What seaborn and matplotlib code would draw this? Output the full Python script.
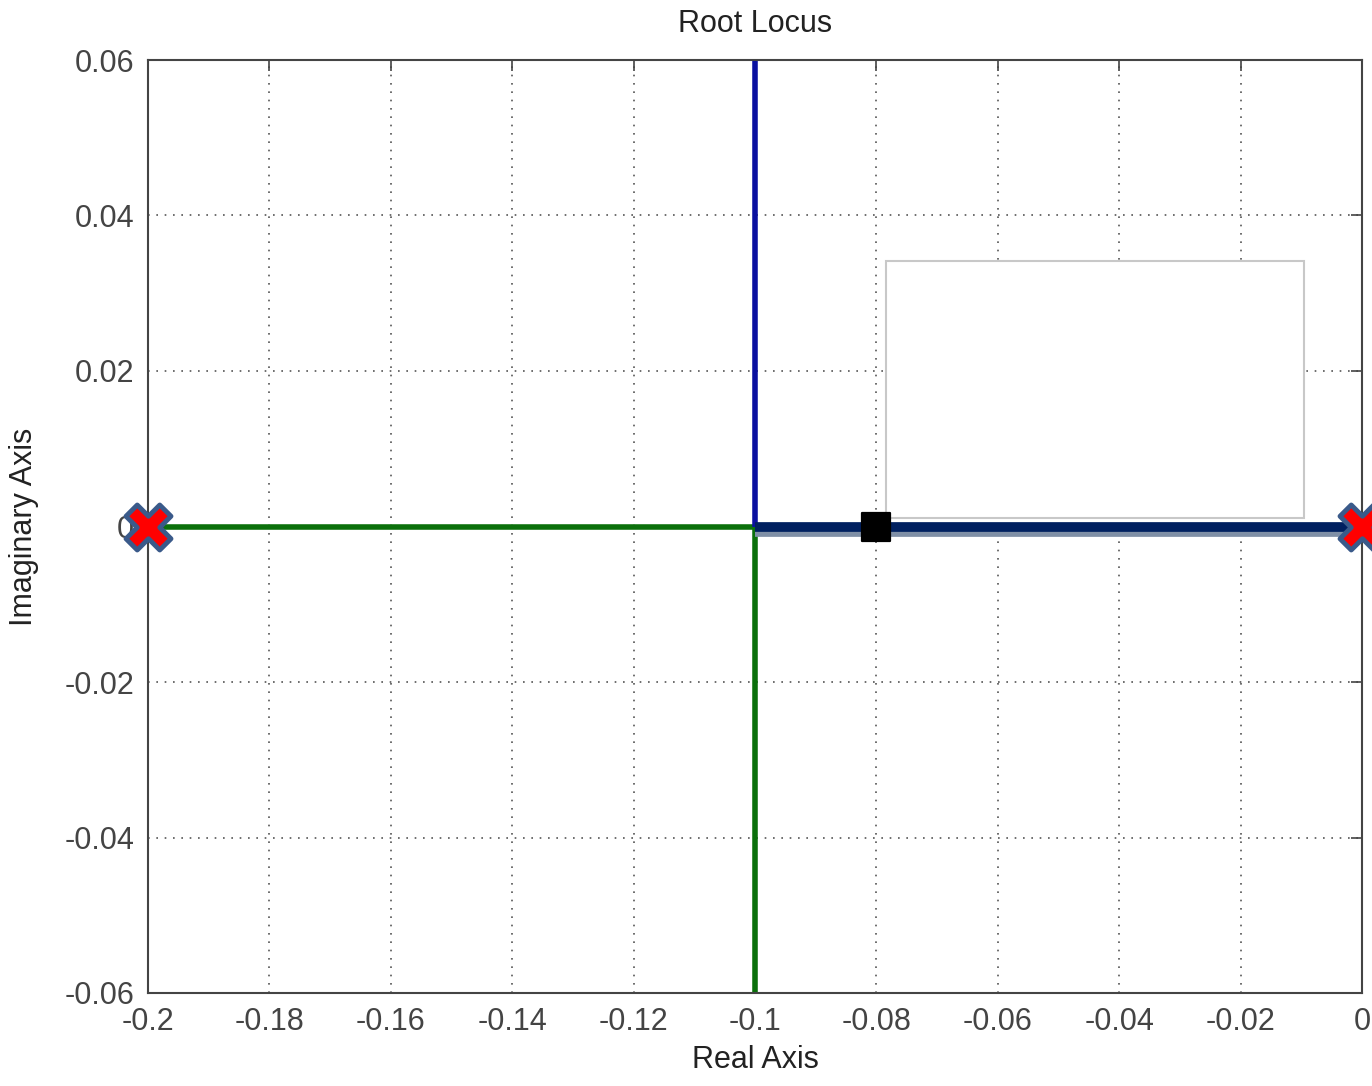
import matplotlib
matplotlib.use("Agg")
import matplotlib.pyplot as plt
import matplotlib.patheffects as pe
from matplotlib.patches import Rectangle
import seaborn as sns
import pandas as pd

# Data
upper_branch_x = [-0.1, -0.1]
upper_branch_y = [0.06, 0.0]
right_branch_x = [-0.1, 0.0]
right_branch_y = [0.0, 0.0]
left_branch_x = [-0.2, -0.1]
left_branch_y = [0.0, 0.0]
lower_branch_x = [-0.1, -0.1]
lower_branch_y = [0.0, -0.06]
poles_x = [-0.2, 0.0]
poles_y = [0.0, 0.0]
marker_x = [-0.08]
marker_y = [0.0]
xticks = [-0.2, -0.18, -0.16, -0.14, -0.12, -0.1, -0.08, -0.06, -0.04, -0.02, 0.0]
xtick_labels = ["-0.2", "-0.18", "-0.16", "-0.14", "-0.12", "-0.1", "-0.08", "-0.06", "-0.04", "-0.02", "0"]
yticks = [-0.06, -0.04, -0.02, 0.0, 0.02, 0.04, 0.06]
ytick_labels = ["-0.06", "-0.04", "-0.02", "0", "0.02", "0.04", "0.06"]
box_x = [-0.0784, -0.0096]
box_y = [0.0011, 0.0342]

sns.set_style("white")
plt.rcParams['font.family'] = ['Liberation Sans', 'DejaVu Sans']

fig = plt.figure(figsize=(13.72, 10.86), dpi=100)
ax = fig.add_axes([148/1372, 1 - 993/1086, (1362-148)/1372, (993-60)/1086])

ax.set_xlim(-0.2, 0.0)
ax.set_ylim(-0.06, 0.06)

ax.grid(True, linestyle=(0, (1, 4)), color="#555555", linewidth=1.2)
ax.set_axisbelow(True)

def line(xs, ys, **kw):
    df = pd.DataFrame({"x": xs, "y": ys})
    return sns.lineplot(data=df, x="x", y="y", sort=False, estimator=None, ax=ax, **kw)

line(left_branch_x, left_branch_y, color="#0b700b", linewidth=4, solid_capstyle="butt")
line(lower_branch_x, lower_branch_y, color="#0b700b", linewidth=4, solid_capstyle="butt")
line(upper_branch_x, upper_branch_y, color="#0a10a0", linewidth=4, solid_capstyle="butt")
line(right_branch_x, right_branch_y, color="#002060", linewidth=7, solid_capstyle="butt")
ax.lines[-1].set_path_effects([pe.SimpleLineShadow(offset=(0, -4), shadow_color="#7f8fa6", alpha=1.0),
                               pe.Normal()])

# blanked datatip box
ax.add_patch(Rectangle((box_x[0], box_y[0]), box_x[1] - box_x[0], box_y[1] - box_y[0],
                       facecolor="white", edgecolor="#c8c8c8", linewidth=1.5, zorder=5))

sns.scatterplot(x=marker_x, y=marker_y, marker="s", s=400, color="black", edgecolor="black",
                ax=ax, zorder=6, clip_on=False)
sns.scatterplot(x=poles_x, y=poles_y, marker="X", s=1050, color="#ff0000", edgecolor="#3a5a8a",
                linewidth=3.5, ax=ax, zorder=7, clip_on=False)

ax.set_xticks(xticks)
ax.set_xticklabels(xtick_labels)
ax.set_yticks(yticks)
ax.set_yticklabels(ytick_labels)
ax.tick_params(direction="in", length=8, width=1.2, colors="#444444", labelsize=22,
               top=True, right=True)
ax.tick_params(axis="x", pad=10)
ax.tick_params(axis="y", pad=10)
for s in ax.spines.values():
    s.set_color("#444444")
    s.set_linewidth(1.5)

ax.set_xlabel("Real Axis", fontsize=22, color="#222222", labelpad=6)
ax.set_ylabel("Imaginary Axis", fontsize=22, color="#222222", labelpad=18)
ax.set_title("Root Locus", fontsize=22, color="#222222", pad=20)

fig.savefig("out.png", dpi=100)
